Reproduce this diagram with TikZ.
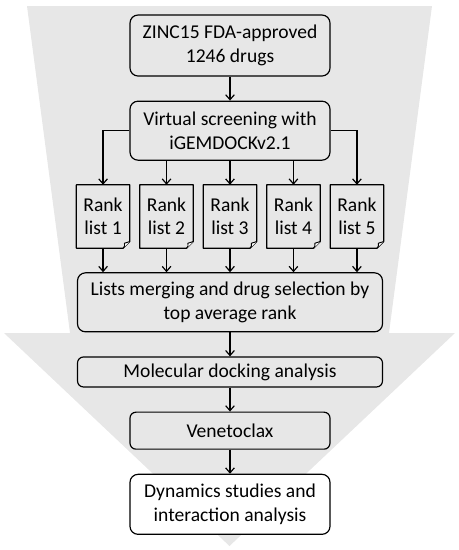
\documentclass[tikz,border=0pt]{standalone}
\usepackage{fontspec}
\setmainfont{Carlito}
\usetikzlibrary{arrows.meta, positioning}
\definecolor{funnelgray}{HTML}{E7E7E7}
\tikzset{
  stage/.style={rectangle, rounded corners=0.24cm, minimum width=6cm, minimum height=1.8cm, align=center, draw=black, line width=1pt, fill=funnelgray},
  widestage/.style={stage, minimum width=9.15cm},
  ranklist/.style={rectangle, minimum width=1.59cm, minimum height=1.89cm, align=center},
  arrow/.style={line width=1pt, -{Straight Barb[length=0.15cm, width=0.26cm]}}
}

\begin{document}
\begin{tikzpicture}[node distance=0.72cm and 0.3cm, font=\fontsize{16.7}{20}\selectfont]

  \useasboundingbox (0,0) rectangle (13.77,-16.5);
  % funnel behind the steps
  \fill[funnelgray] (0.81,-0.18) -- (12.96,-0.18) -- (11.67,-9.99) -- (13.65,-9.99) -- (6.885,-16.38) -- (0.12,-9.99) -- (2.1,-9.99) -- cycle;

  \node (zinc) [stage, minimum height=1.83cm] at (6.9,-1.365) {ZINC15 FDA-approved\\1246 drugs};
  \node (screen) [stage, minimum height=1.77cm, below=of zinc] {Virtual screening with\\iGEMDOCKv2.1};
  \node (r3) [ranklist, below=of screen] {Rank\\list 3};
  \node (r2) [ranklist, left=of r3] {Rank\\list 2};
  \node (r1) [ranklist, left=of r2] {Rank\\list 1};
  \node (r4) [ranklist, right=of r3] {Rank\\list 4};
  \node (r5) [ranklist, right=of r4] {Rank\\list 5};
  \node (merge) [widestage, minimum height=1.77cm, below=of r3] {Lists merging and drug selection by\\top average rank};
  \node (docking) [widestage, rounded corners=0.18cm, minimum height=0.9cm, below=of merge] {Molecular docking analysis};
  \node (veneto) [stage, rounded corners=0.18cm, minimum height=1.11cm, below=of docking] {Venetoclax};
  \node (dynamics) [stage, fill=white, below=of veneto] {Dynamics studies and\\interaction analysis};

  % rank lists with a folded corner
  \foreach \i in {1,...,5} {
    \draw[line width=1pt, line join=round] (r\i.north west) -- (r\i.north east) -- ([yshift=0.2cm]r\i.south east) -- ([xshift=-0.2cm]r\i.south east) -- (r\i.south west) -- cycle;
    \draw[line width=0.8pt, line join=round, fill=white] ([xshift=-0.2cm]r\i.south east) .. controls ([xshift=-0.15cm, yshift=0.06cm]r\i.south east) .. ([xshift=-0.16cm, yshift=0.15cm]r\i.south east) -- ([yshift=0.2cm]r\i.south east);
  }

  \draw [arrow] (zinc) -- (screen);
  \draw [arrow] (screen.west) -| (r1);
  \draw [arrow] (screen.east) -| (r5);
  \foreach \i in {2,3,4}
    \draw [arrow] (screen.south -| r\i) -- (r\i);
  \foreach \i in {1,...,5}
    \draw [arrow] (r\i) -- (r\i |- merge.north);
  \draw [arrow] (merge) -- (docking);
  \draw [arrow] (docking) -- (veneto);
  \draw [arrow] (veneto) -- (dynamics);

\end{tikzpicture}
\end{document}
